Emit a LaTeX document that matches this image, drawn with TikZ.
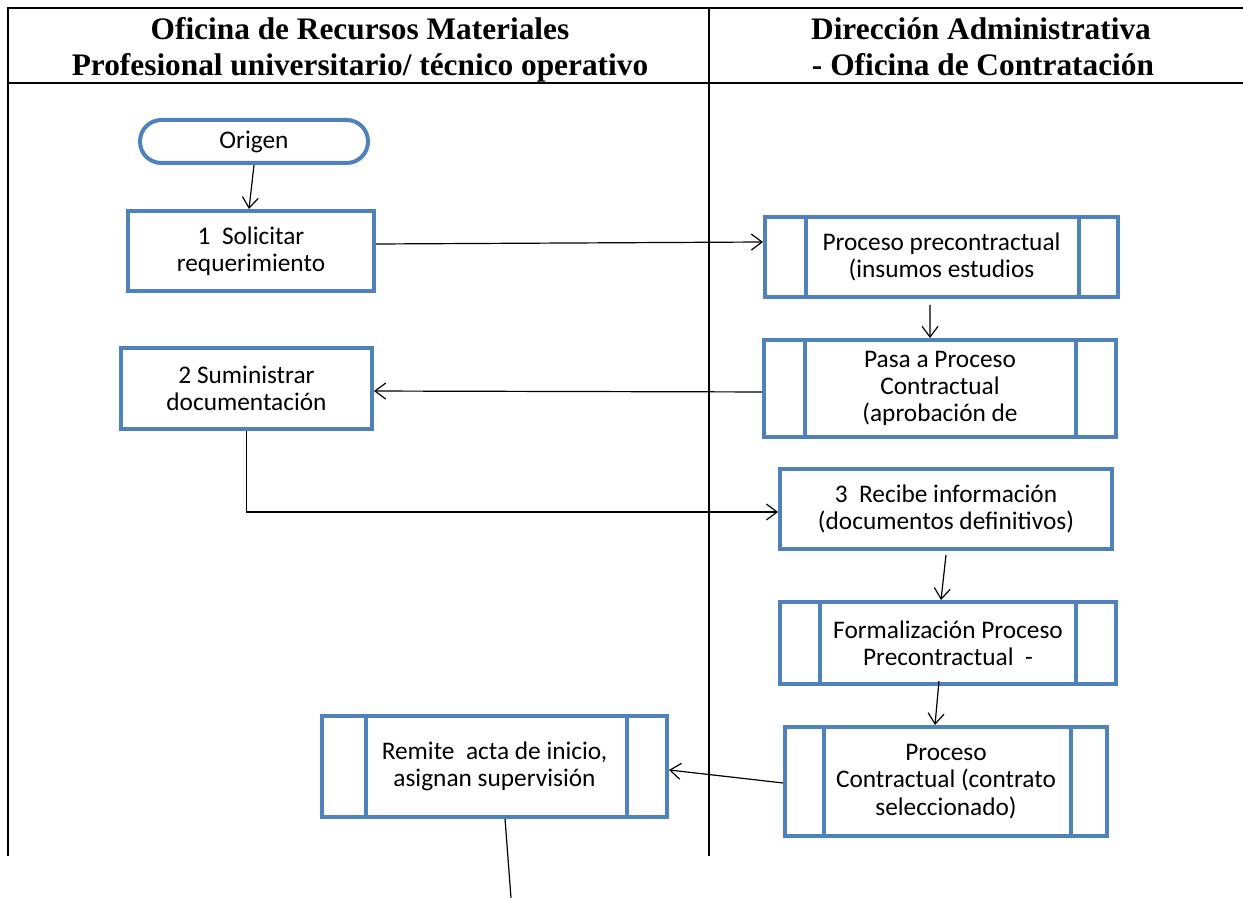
\documentclass[tikz,border=0pt]{standalone}
\usepackage{fontspec}
\setmainfont{Carlito}
\newfontfamily\headfont{Liberation Serif}
\usetikzlibrary{arrows.meta}
\definecolor{boxblue}{HTML}{4F81BD}
% vertical side bars of a predefined-process box
\newcommand\sidebars[3]{%
  \draw[bar] ([xshift=#2]#1.north west) -- ([xshift=#2]#1.south west);
  \draw[bar] ([xshift=-#3]#1.north east) -- ([xshift=-#3]#1.south east);}
\begin{document}
\begin{tikzpicture}[x=0.75pt,y=-0.75pt,
  lane/.style={line width=2.2pt,black},
  box/.style={draw=boxblue,line width=3pt,rectangle,inner sep=0pt,align=center,
    font=\fontsize{19}{20.5}\selectfont},
  sz/.style 2 args={minimum width=#1*0.75pt,minimum height=#2*0.75pt},
  bar/.style={draw=boxblue,line width=3pt},
  flow/.style={-{Straight Barb[length=8pt,width=12pt]},line width=0.9pt},
  head/.style={font=\headfont\bfseries\fontsize{23.5}{27}\selectfont,anchor=base,inner sep=0pt}]
\useasboundingbox (0,0) rectangle (1243,898);

% swimlane frame
\draw[lane] (8,856) -- (8,8) -- (1243,8);
\draw[lane] (8,83) -- (1243,83);
\draw[lane] (709,8) -- (709,856);

% lane titles
\node[head] (hl1) at (360,40) {Oficina de Recursos Materiales};
\node[head] (hl2) at (360,76) {Profesional universitario/ técnico operativo};
\node[head] (hr1) at (981,40) {Dirección Administrativa};
\node[head] (hr2) at (983,76) {- Oficina de Contratación};

% process steps
\node[box,sz={228}{43},rounded corners=16pt] (orig) at (254,141.5) {Origen};
\node[box,sz={246}{80}] (s1) at (251,251) {1\ \ Solicitar\\requerimiento};
\node[box,sz={353}{80}] (pre) at (941.5,257) {Proceso precontractual\\(insumos estudios};
\node[box,sz={352}{97}] (pasa) at (940,388.5) {Pasa a Proceso\\Contractual\\(aprobación de};
\node[box,sz={251}{81}] (s2) at (246.5,388.5) {2 Suministrar\\documentación};
\node[box,sz={332}{80}] (s3) at (946,509) {3\ \ Recibe información\\(documentos definitivos)};
\node[box,sz={336}{82}] (form) at (948,643) {Formalización Proceso\\Precontractual\ \ -};
\node[box,sz={322}{109}] (proc) at (946,781.5) {Proceso\\Contractual (contrato\\seleccionado)};
\node[box,sz={345}{101}] (rem) at (494.5,766.5) {Remite\ \ acta de inicio,\\asignan supervisión};
\coordinate (tail) at (511,898);

\sidebars{pre}{32.25pt}{30.75pt}
\sidebars{pasa}{32.25pt}{31.5pt}
\sidebars{form}{31.5pt}{31.5pt}
\sidebars{proc}{30.75pt}{28.5pt}
\sidebars{rem}{34.5pt}{31.5pt}

% connectors
\draw[flow] (orig.south) -- ([xshift=-1.5pt]s1.north);
\draw[flow] ([yshift=5.25pt]s1.east) -- ([yshift=11.25pt]pre.west);
\draw[flow] ([xshift=-8.6pt,yshift=-4.5pt]pre.south) -- ([xshift=-7.5pt]pasa.north);
\draw[flow] ([yshift=-2.6pt]pasa.west) -- ([yshift=-1.9pt]s2.east);
\draw[flow] (s2.south) |- ([yshift=-2.25pt]s3.west);
\draw[flow] ([yshift=-3pt]s3.south) -- ([xshift=-5.25pt]form.north);
\draw[flow] ([xshift=-6.75pt,yshift=3.75pt]form.south) -- ([xshift=-8.25pt]proc.north);
\draw[flow] ([yshift=-1.1pt]proc.west) -- ([yshift=-2.6pt]rem.east);
\draw[line width=0.9pt] ([xshift=7.9pt]rem.south) -- (tail);
\end{tikzpicture}
\end{document}
